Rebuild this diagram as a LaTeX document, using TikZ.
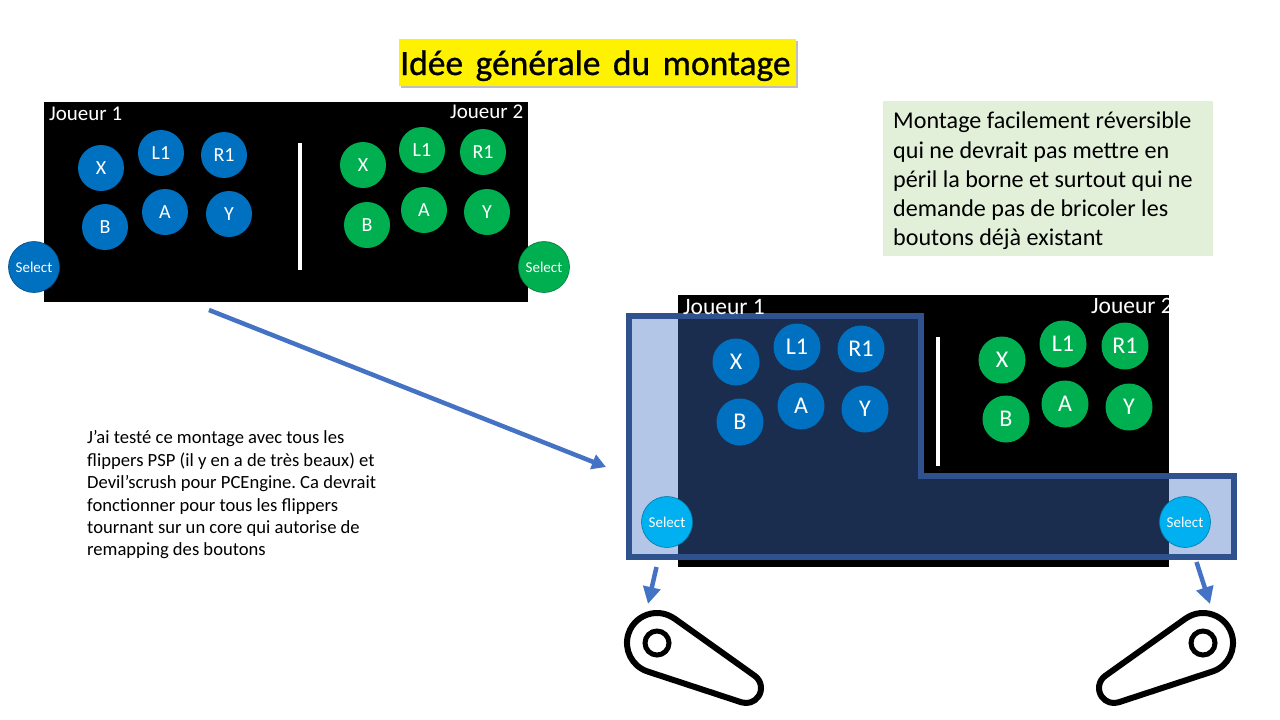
\documentclass[tikz,border=0pt]{standalone}
\usepackage{fontspec}
\setmainfont{Carlito}
\newfontfamily\titlefont[WordSpace=1.55,RawFeature={embolden=0.8}]{Carlito}
\usetikzlibrary{arrows.meta}
\definecolor{btnblue}{HTML}{0070C0}
\definecolor{btngreen}{HTML}{00B050}
\definecolor{btnsky}{HTML}{00B0F0}
\definecolor{arrowblue}{HTML}{4472C4}
\definecolor{frameblue}{HTML}{2F528F}
\definecolor{notegreen}{HTML}{E2F0D9}
\tikzset{
  x=1pt,y=-1pt,
  btn/.style={circle,inner sep=0pt,minimum size=#1,text=white,font=\fontsize{20}{20}\selectfont},
  btn/.default=46pt,
  blueb/.style={btn,fill=btnblue},
  greenb/.style={btn,fill=btngreen},
  bigblue/.style={btn=47pt,fill=btnblue,font=\fontsize{24}{24}\selectfont},
  biggreen/.style={btn=47pt,fill=btngreen,font=\fontsize{24}{24}\selectfont},
  selectb/.style={btn=51pt,font=\fontsize{15}{15}\selectfont,draw=#1!70!black,line width=.6pt},
  player/.style={text=white,inner sep=0pt,anchor=base west},
  flow/.style={arrowblue,line width=4.5pt,-{Triangle[length=17pt,width=17pt]}},
  flipper/.style={draw=black,line width=6pt,line join=round},
  pivot/.style={draw=black,line width=5pt}
}
\begin{document}
\frenchspacing
\begin{tikzpicture}
\useasboundingbox (0,0) rectangle (1280,720);
\fill[white] (0,0) rectangle (1280,720);
% title
\fill[black!25] (400.5,40.5) rectangle (797.5,87.5);
\node[fill=yellow,minimum width=397pt,minimum height=47pt,inner sep=0pt,text=black] (titlebox) at (597.5,62.5) {};
\node[inner sep=0pt,anchor=base west,text=black,
  font=\titlefont\fontsize{35.5}{35.5}\selectfont] (title) at (400,75) {Idée générale du montage};
% note
\node[fill=notegreen,minimum width=330pt,minimum height=155pt,inner sep=0pt] (note) at (1048,178.5) {};
\node[anchor=north west,inner sep=0pt,align=left,font=\fontsize{24.1}{29.2}\selectfont] (notetext) at (893,112)
  {Montage facilement réversible\\qui ne devrait pas mettre en\\péril la borne et surtout qui ne\\demande pas de bricoler les\\boutons déjà existant};
% left text
\node[anchor=north west,inner sep=0pt,align=left,font=\fontsize{18.6}{22.4}\selectfont] (story) at (87,430.5)
  {J’ai testé ce montage avec tous les\\flippers PSP (il y en a de très beaux) et\\Devil’scrush pour PCEngine. Ca devrait\\fonctionner pour tous les flippers\\tournant sur un core qui autorise de\\remapping des boutons};
% top panel
\fill[black] (44,102) rectangle (528,302);
\fill[white] (298,143) rectangle (302,270);
\node[player,font=\fontsize{21}{21}\selectfont] (p1a) at (49,120) {Joueur 1};
\node[player,font=\fontsize{21}{21}\selectfont] (p2a) at (450,118) {Joueur 2};
\node[blueb] (xa) at (101,168) {X};
\node[blueb] (la) at (161,153) {L1};
\node[blueb] (ra) at (224,155) {R1};
\node[blueb] (ba) at (105,227) {B};
\node[blueb] (aa) at (165,212) {A};
\node[blueb] (ya) at (229,214) {Y};
\node[greenb] (xb) at (363,165) {X};
\node[greenb] (lb) at (422,150) {L1};
\node[greenb] (rb) at (483,152) {R1};
\node[greenb] (bb) at (367,225) {B};
\node[greenb] (ab) at (424,210) {A};
\node[greenb] (yb) at (487,212) {Y};
\node[selectb=btnblue,fill=btnblue] (sa) at (34,267) {Select};
\node[selectb=btngreen,fill=btngreen] (sb) at (544,267) {Select};
% bottom panel
\fill[black] (678,295) rectangle (1169,567);
\fill[white] (936,337) rectangle (940,466);
\node[biggreen] (xd) at (1002,360) {X};
\node[biggreen] (ld) at (1063,344) {L1};
\node[biggreen] (rd) at (1125,346) {R1};
\node[biggreen] (bd) at (1006,419) {B};
\node[biggreen] (ad) at (1065,404) {A};
\node[biggreen] (yd) at (1129,407) {Y};
\node[player,font=\fontsize{23.5}{23.5}\selectfont] (p2c) at (1091,313) {Joueur 2};
% overlay
\fill[arrowblue,opacity=.4] (629,316) -- (921,316) -- (921,476) -- (1234,476) -- (1234,557) -- (629,557) -- cycle;
\draw[frameblue,line width=6pt,line join=miter] (629,316) -- (921,316) -- (921,476) -- (1234,476) -- (1234,557) -- (629,557) -- cycle;
\node[player,font=\fontsize{23.5}{23.5}\selectfont] (p1c) at (683,314) {Joueur 1};
\node[bigblue] (xc) at (736,362) {X};
\node[bigblue] (lc) at (797,347) {L1};
\node[bigblue] (rc) at (861,349) {R1};
\node[bigblue] (bc) at (740,422) {B};
\node[bigblue] (ac) at (801,406) {A};
\node[bigblue] (yc) at (865,409) {Y};
\node[selectb=btnsky,fill=btnsky] (sc) at (667,522) {Select};
\node[selectb=btnsky,fill=btnsky] (sd) at (1185,522) {Select};
% arrows
\coordinate (m0) at (209,310);
\coordinate (m1) at (606,467);
\draw[arrowblue,line width=4.5pt,-{Triangle[length=14pt,width=15pt]}] (m0) -- (m1);
\coordinate (fl0) at (656.5,567);
\coordinate (fl1) at (648,604);
\coordinate (fr0) at (1196.5,562);
\coordinate (fr1) at (1210,604);
\draw[flow] (fl0) -- (fl1);
\draw[flow] (fr0) -- (fr1);
% flippers
\draw[flipper] (674.4,618.5) -- (754.7,675.8) arc[start angle=-54.6,end angle=108.2,radius=15]
  -- (647.6,671.5) arc[start angle=108.2,end angle=305.4,radius=30] -- cycle;
\draw[pivot] (657,643) circle[radius=12];
\begin{scope}[x=-1pt,xshift=1860pt]
\draw[flipper] (674.4,618.5) -- (754.7,675.8) arc[start angle=-54.6,end angle=108.2,radius=15]
  -- (647.6,671.5) arc[start angle=108.2,end angle=305.4,radius=30] -- cycle;
\draw[pivot] (657,643) circle[radius=12];
\end{scope}
\end{tikzpicture}
\end{document}
